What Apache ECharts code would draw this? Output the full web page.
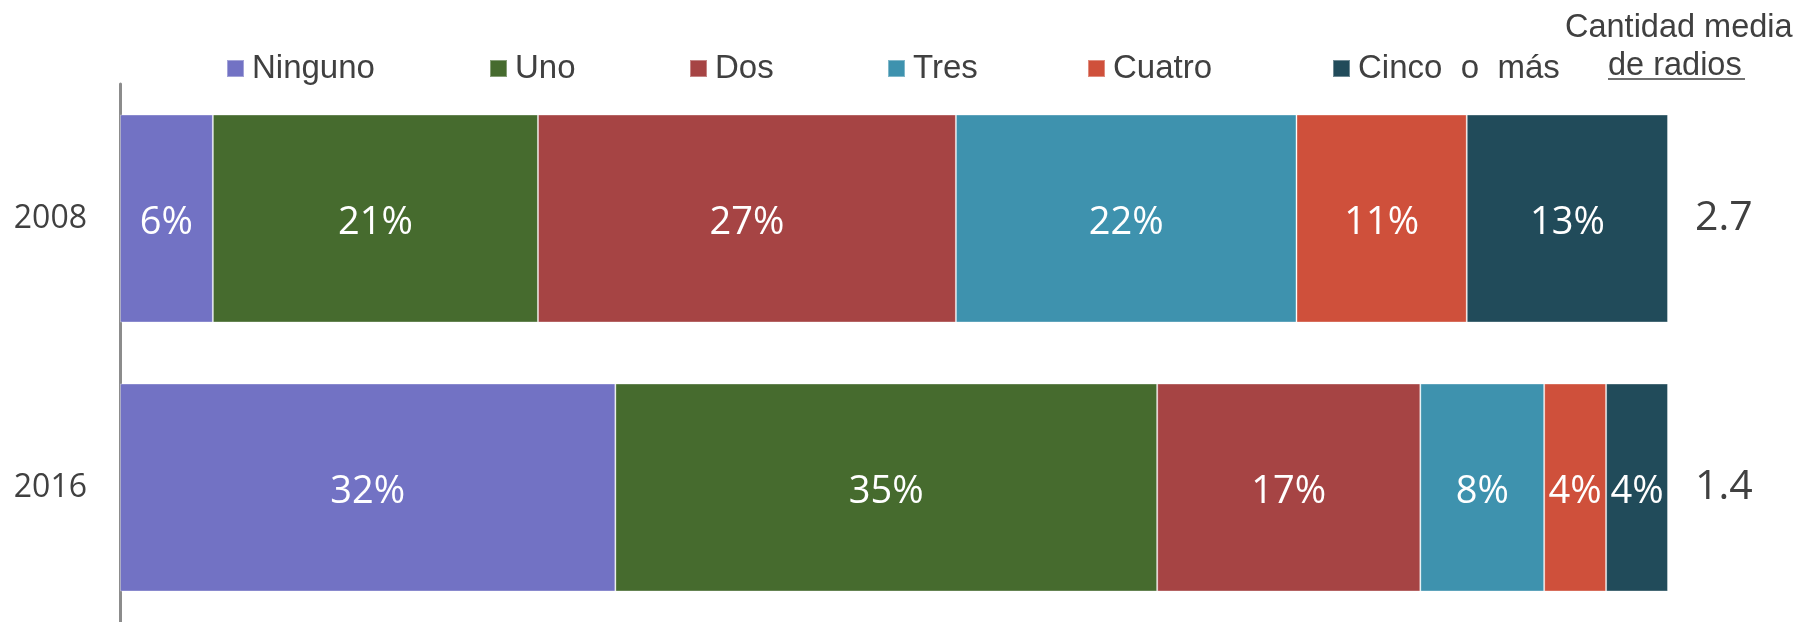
<!DOCTYPE html>
<html><head><meta charset="utf-8">
<script src="https://cdn.jsdelivr.net/npm/echarts@6/dist/echarts.min.js"></script>
<style>html,body{margin:0;padding:0;background:#fff}#c{width:1800px;height:622px}</style>
</head><body><div id="c"></div>
<script>
const years = ['2008', '2016'];
const meanRadios = ['2.7', '1.4'];
const seriesNames = ['Ninguno', 'Uno', 'Dos', 'Tres', 'Cuatro', 'Cinco  o  más'];
const ninguno = [6, 32];
const uno = [21, 35];
const dos = [27, 17];
const tres = [22, 8];
const cuatro = [11, 4];
const cinco = [13, 4];
const colors = ['#7272C4', '#466B2E', '#A64444', '#3E92AE', '#CF503B', '#214B5A'];
const values = [ninguno, uno, dos, tres, cuatro, cinco];

const legendLeft = [226, 489, 689, 887, 1087, 1332];
const chart = echarts.init(document.getElementById('c'));
chart.setOption({
  animation: false,
  grid: { left: 120, right: 132, top: 84, height: 538, containLabel: false },
  legend: seriesNames.map((n, i) => ({
    data: [n], left: legendLeft[i], top: 52, padding: 0, itemWidth: 17, itemHeight: 17, itemGap: 0,
    icon: 'rect', selectedMode: false,
    textStyle: { fontFamily: 'Liberation Sans', fontSize: 33, color: '#404040', padding: [0, 0, 0, 3] }
  })),
  xAxis: { type: 'value', min: 0, max: 100, show: false },
  yAxis: [
    { type: 'category', data: years, inverse: true, position: 'left', offset: 2,
      axisLine: { show: true, lineStyle: { color: '#8c8c8c', width: 3 } }, axisTick: { show: false },
      axisLabel: { margin: 31, fontFamily: 'Open Sans', fontSize: 32, color: '#404040', padding: [4, 0, 0, 0] } },
    { type: 'category', data: meanRadios, inverse: true, position: 'right',
      axisLine: { show: false }, axisTick: { show: false },
      axisLabel: { margin: 27, fontFamily: 'Open Sans', fontSize: 41, color: '#404040' } }
  ],
  series: seriesNames.map((n, i) => ({
    name: n, type: 'bar', stack: 'total', barWidth: 208, yAxisIndex: 0,
    data: values[i],
    itemStyle: { color: colors[i], borderColor: 'rgba(255,255,255,0.35)', borderWidth: 1 },
    label: { show: true, position: 'inside', offset: [0, 5], formatter: p => p.value + '%',
      fontFamily: 'Open Sans', fontSize: 38, color: '#ffffff' }
  })),
  graphic: [
    { type: 'text', left: 1565, top: 12, style: { text: 'Cantidad media', font: '32.5px "Liberation Sans"', fill: '#404040' } },
    { type: 'text', left: 1608, top: 50, style: { text: 'de radios', font: '32.5px "Liberation Sans"', fill: '#404040' } },
    { type: 'line', shape: { x1: 1608, y1: 79, x2: 1745, y2: 79 }, style: { stroke: '#404040', lineWidth: 1.5 } }
  ]
});
</script></body></html>
